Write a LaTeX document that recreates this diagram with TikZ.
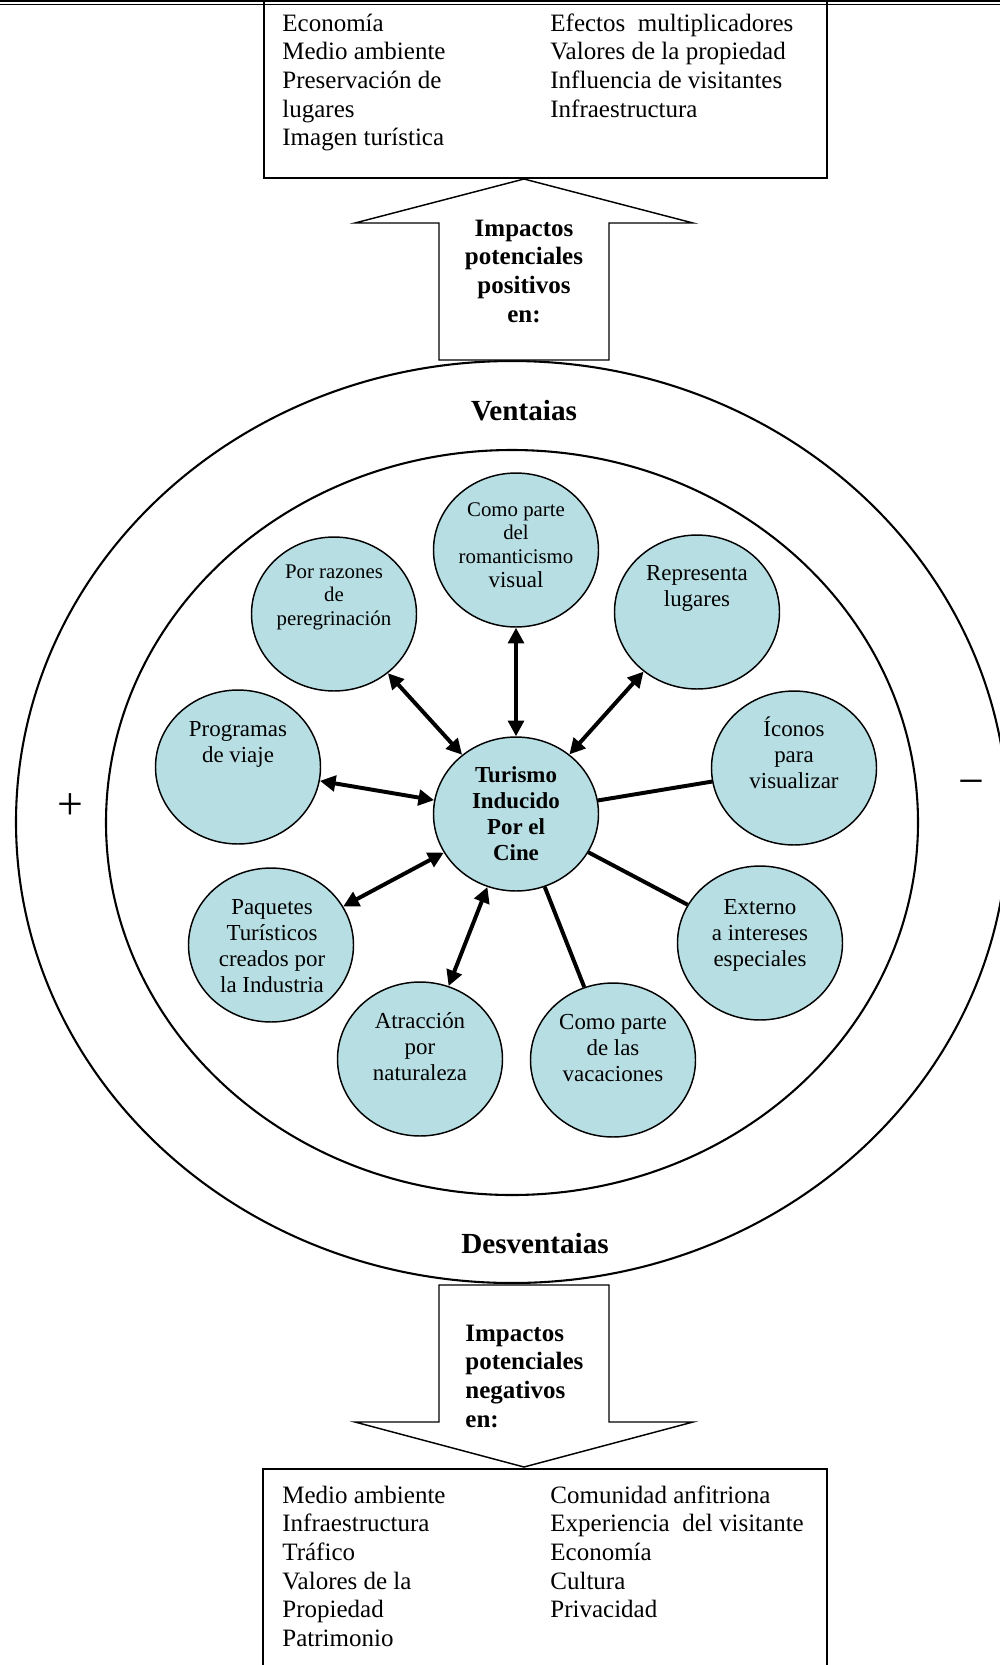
\documentclass[tikz,border=0pt]{standalone}
\usepackage{fontspec}
\setmainfont{Liberation Serif}
\usetikzlibrary{shapes.geometric,arrows.meta}
\definecolor{bub}{RGB}{183,222,227}
% stacked lines, baseline on the first line
\newcommand\stackc[1]{\begin{tabular}[t]{@{}c@{}}#1\end{tabular}}
\newcommand\stackl[1]{\begin{tabular}[t]{@{}l@{}}#1\end{tabular}}
\begin{document}
\begin{tikzpicture}[x=0.48pt,y=-0.48pt,
  bubble/.style={ellipse,draw,line width=0.7pt,fill=bub,minimum width=79.2pt,minimum height=73.9pt,inner sep=0pt},
  link/.style={line width=1.9pt},
  biarrow/.style={link,{Triangle[length=7.5pt,width=7.5pt]}-{Triangle[length=7.5pt,width=7.5pt]}},
  btxt/.style={anchor=base,inner sep=0pt,font=\fontsize{11}{12.5}\selectfont},
  stxt/.style={anchor=base,inner sep=0pt,font=\fontsize{10}{11.5}\selectfont},
  boldtxt/.style={anchor=base,inner sep=0pt,font=\fontsize{11}{12.5}\selectfont\bfseries},
  boxtxt/.style={anchor=base west,inner sep=0pt,font=\fontsize{12}{13.78}\selectfont},
  arrtxt/.style={inner sep=0pt,font=\fontsize{12}{13.78}\selectfont\bfseries},
  bigarrow/.style={draw,line width=0.7pt,fill=white,line join=miter},
  ring/.style={draw,line width=1pt},
  frame/.style={draw,line width=0.7pt}]
\useasboundingbox (0,0) rectangle (1000,1665);
\clip (0,0) rectangle (1000,1665);
\fill[white] (0,0) rectangle (1000,1665);

% the two rings
\draw[ring] (512,822) ellipse [x radius=496, y radius=461];
\draw[ring] (512,822.5) ellipse [x radius=406, y radius=372.5];

% upper and lower boxes
\draw[frame] (264,-10) rectangle (827,178);
\draw[frame] (263,1469) rectangle (827,1690);

% page rule at the top
\draw[line width=1.2pt] (0,1.2) -- (1000,1.2);
\draw[line width=0.5pt] (0,4.2) -- (1000,4.2);

% block arrows
\draw[bigarrow] (439,360) -- (439,223) -- (355,223) -- (524,179) -- (693,223) -- (609,223) -- (609,360) -- cycle;
\draw[bigarrow] (439,1285) -- (609,1285) -- (609,1422) -- (693,1422) -- (524,1467) -- (355,1422) -- (439,1422) -- cycle;

% box contents
\node[boxtxt] (posA) at (282,31) {\stackl{Economía\\Medio ambiente\\Preservación de\\lugares\\Imagen turística}};
\node[boxtxt] (posB) at (550,31) {\stackl{Efectos~ multiplicadores\\Valores de la propiedad\\Influencia de visitantes\\Infraestructura}};
\node[boxtxt] (negA) at (282,1503) {\stackl{Medio ambiente\\Infraestructura\\Tráfico\\Valores de la\\Propiedad\\Patrimonio}};
\node[boxtxt] (negB) at (550,1503) {\stackl{Comunidad anfitriona\\Experiencia~ del visitante\\Economía\\Cultura\\Privacidad}};

% arrow labels
\node[arrtxt,anchor=base] (posT) at (524,236) {\stackc{Impactos\\potenciales\\positivos\\en:}};
\node[arrtxt,anchor=base west] (negT) at (465,1341) {\stackl{Impactos\\potenciales\\negativos\\en:}};

% ring labels
\node[anchor=base,inner sep=0pt,font=\fontsize{14}{16}\selectfont\bfseries] (vent) at (524,420) {Ventaias};
\node[anchor=base,inner sep=0pt,font=\fontsize{14}{16}\selectfont\bfseries] (desv) at (535,1253) {Desventaias};
\node[inner sep=0pt,font=\fontsize{22}{24}\selectfont] (plus) at (70,807) {+};
\node[inner sep=0pt,font=\fontsize{22}{24}\selectfont] (minus) at (971,788) {−};

% bubbles
\node[bubble] (rom) at (516,550) {};
\node[bubble] (rep) at (697,612) {};
\node[bubble] (ico) at (794,768) {};
\node[bubble] (tic) at (516,814) {};
\node[bubble] (pro) at (238,767) {};
\node[bubble] (paq) at (271,945) {};
\node[bubble] (atr) at (420,1059) {};
\node[bubble] (vac) at (613,1060) {};
\node[bubble] (ext) at (760,943) {};
\node[bubble] (per) at (334,614) {};

% connectors
\draw[biarrow] (rom) -- (tic);
\draw[biarrow] (rep) -- (tic);
\draw[biarrow] (per) -- (tic);
\draw[biarrow] (pro) -- (tic);
\draw[biarrow] (paq) -- (tic);
\draw[biarrow] (atr) -- (tic);
\draw[link] (tic) -- (ico);
\draw[link] (tic) -- (ext);
\draw[link] (tic) -- (vac);

% bubble texts
\node[stxt] (rom-t) at (516,516) {\stackc{Como parte\\del\\romanticismo\\{\fontsize{11}{12.5}\selectfont visual}}};
\node[btxt] (rep-t) at (697,580) {\stackc{Representa\\lugares}};
\node[btxt] (ico-t) at (794,736) {\stackc{Íconos\\para\\visualizar}};
\node[boldtxt] (tic-t) at (516,782) {\stackc{Turismo\\Inducido\\Por el\\Cine}};
\node[btxt] (pro-t) at (238,736) {\stackc{Programas\\de viaje}};
\node[btxt] (paq-t) at (272,914) {\stackc{Paquetes\\Turísticos\\creados por\\la Industria}};
\node[btxt] (atr-t) at (420,1028) {\stackc{Atracción\\por\\naturaleza}};
\node[btxt] (vac-t) at (613,1029) {\stackc{Como parte\\de las\\vacaciones}};
\node[btxt] (ext-t) at (760,914) {\stackc{Externo\\a intereses\\especiales}};
\node[stxt] (per-t) at (334,578) {\stackc{Por razones\\de\\peregrinación}};
\end{tikzpicture}
\end{document}
